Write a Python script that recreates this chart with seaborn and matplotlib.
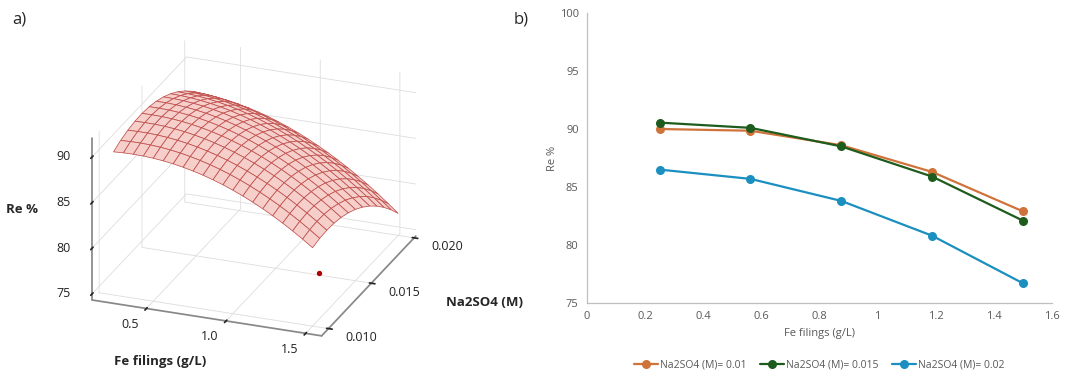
import numpy as np
import pandas as pd
import matplotlib
matplotlib.use("Agg")
import matplotlib.pyplot as plt
from matplotlib.ticker import NullFormatter
from mpl_toolkits.mplot3d import proj3d
import seaborn as sns

# Data
fe_filings = [0.25, 0.5625, 0.875, 1.1875, 1.5]
re_001 = [90.0, 89.85, 88.6, 86.3, 82.9]
re_0015 = [90.55, 90.1, 88.5, 85.9, 82.1]
re_002 = [86.5, 85.7, 83.8, 80.8, 76.7]
na2so4_levels = [0.01, 0.015, 0.02]
series_labels = ["Na2SO4 (M)= 0.01", "Na2SO4 (M)= 0.015", "Na2SO4 (M)= 0.02"]
series_colors = ["#d0733a", "#1e5c1e", "#1a8fc0"]

# tick values of panel a
fe_ticks = [0.5, 1.0, 1.5]
na_ticks = [0.010, 0.015, 0.020]
re_ticks = [75, 80, 85, 90]

# single design point shown in panel a
dot_fe, dot_na, dot_re = [1.26], [0.0152], [74.3]

sns.set_theme(style="white")
plt.rcParams["font.family"] = ["Open Sans", "DejaVu Sans"]

W, H = 1077, 376
fig = plt.figure(figsize=(W / 100, H / 100), dpi=100)

# ---- panel a: response surface (quadratic fit to the measured points) ----
ax3 = fig.add_axes([-0.019, -0.0295, 0.5, 1.035], projection="3d", proj_type="ortho")
F, N = np.meshgrid(fe_filings, na2so4_levels)
Z = np.array([re_001, re_0015, re_002])
f, n, z = F.ravel(), N.ravel(), Z.ravel()
A = np.column_stack([np.ones_like(f), f, n, f * f, n * n, f * n])
coef, *_ = np.linalg.lstsq(A, z, rcond=None)
fg, ng = np.meshgrid(np.linspace(0.25, 1.5, 21), np.linspace(0.01, 0.02, 13))
zg = coef[0] + coef[1] * fg + coef[2] * ng + coef[3] * fg**2 + coef[4] * ng**2 + coef[5] * fg * ng
ax3.plot_surface(fg, ng, zg, color="#f6cdc9", edgecolor="#c0504d", linewidth=0.55,
                 rstride=1, cstride=1, shade=False, alpha=0.95)
ax3.scatter(dot_fe, dot_na, dot_re, color="#b00000", s=8, depthshade=False)

x0, x1 = 0.16, 1.6
y0, y1 = 0.0092, 0.0202
z0, z1 = 74.3, 92
ax3.set_xlim(x0, x1)
ax3.set_ylim(y0, y1)
ax3.set_zlim(z0, z1)
ax3.set_xticks(fe_ticks)
ax3.set_yticks(na_ticks)
ax3.set_zticks(re_ticks)
ax3.zaxis.set_ticks_position("lower")
for axis in (ax3.xaxis, ax3.yaxis, ax3.zaxis):
    axis.set_major_formatter(NullFormatter())
    axis.set_tick_params(label1On=False, label2On=False)
    axis.set_pane_color((1, 1, 1, 0))
    axis.pane.set_edgecolor("#9a9a9a")
    axis.line.set_color("#888888")
    axis._axinfo["grid"]["color"] = "#dddddd"
    axis._axinfo["grid"]["linewidth"] = 0.6
    axis._axinfo["tick"]["color"] = "#666666"
ax3.view_init(elev=24, azim=-69)
ax3.set_box_aspect((1.0, 1.07, 0.72))

# tick labels: project tick points to pixels, then offset in pixels
fig.canvas.draw()
M = ax3.get_proj()


def to_fig(x, y, zz, dx, dy):
    px, py, _ = proj3d.proj_transform(x, y, zz, M)
    sx, sy = ax3.transData.transform((px, py))
    return (sx + dx) / W, (sy - dy) / H


tick_kw = dict(fontsize=9, color="#222222", va="center")
for v in fe_ticks:
    fig.text(*to_fig(v, y0, z0, -16, 16), f"{v:.1f}", ha="center", **tick_kw)
for v in na_ticks:
    fig.text(*to_fig(x1, v, z0, 17, 9), f"{v:.3f}", ha="left", **tick_kw)
for v in re_ticks:
    fig.text(*to_fig(x0, y0, v, -22, 0), f"{v}", ha="right", **tick_kw)

fig.text(160 / W, 1 - 362 / H, "Fe filings (g/L)", fontsize=9.5, fontweight="bold", ha="center", va="center")
fig.text(485 / W, 1 - 303 / H, "Na2SO4 (M)", fontsize=9.5, fontweight="bold", ha="center", va="center")
fig.text(22 / W, 1 - 210 / H, "Re %", fontsize=9.5, fontweight="bold", ha="center", va="center")

# ---- panel b: line chart ----
ax2 = fig.add_axes([587 / W, 1 - 303 / H, (1052 - 587) / W, (303 - 13) / H])
rows = []
for lab, vals in zip(series_labels, [re_001, re_0015, re_002]):
    for x, y in zip(fe_filings, vals):
        rows.append({"Fe": x, "Re": y, "series": lab})
df = pd.DataFrame(rows)
sns.lineplot(data=df, x="Fe", y="Re", hue="series", palette=series_colors,
             marker="o", markersize=6.5, markeredgewidth=0, linewidth=1.6, ax=ax2)
ax2.set_xlim(0, 1.6)
ax2.set_ylim(75, 100)
ax2.set_xticks([0, 0.2, 0.4, 0.6, 0.8, 1, 1.2, 1.4, 1.6])
ax2.set_xticklabels(["0", "0.2", "0.4", "0.6", "0.8", "1", "1.2", "1.4", "1.6"])
ax2.set_yticks([75, 80, 85, 90, 95, 100])
ax2.tick_params(labelsize=8, colors="#595959", length=0, pad=6)
for s in ["top", "right"]:
    ax2.spines[s].set_visible(False)
for s in ["left", "bottom"]:
    ax2.spines[s].set_color("#bfbfbf")
    ax2.spines[s].set_linewidth(0.9)
ax2.set_xlabel("Fe filings (g/L)", fontsize=8, color="#595959", labelpad=4)
ax2.set_ylabel("Re %", fontsize=8, color="#595959", labelpad=1)
ax2.legend(loc="center", bbox_to_anchor=(0.5, -0.214), ncol=3, frameon=False,
           fontsize=7.5, labelcolor="#595959", handlelength=2.3, columnspacing=1.3,
           handletextpad=0.2)

fig.text(12 / W, 1 - 20 / H, "a)", fontsize=12, va="center")
fig.text(514 / W, 1 - 20 / H, "b)", fontsize=12, va="center")

fig.savefig("out.png", dpi=100, facecolor="white")
